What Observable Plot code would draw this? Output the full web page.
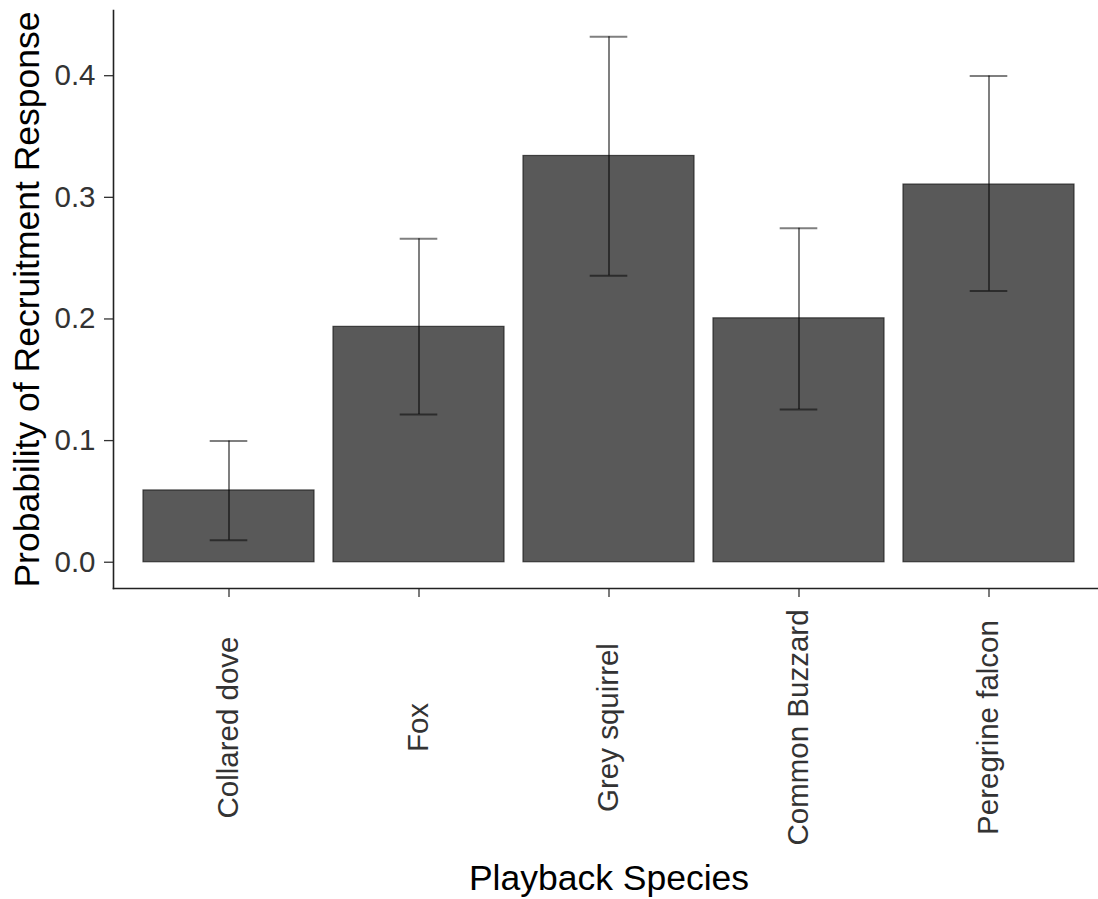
<!DOCTYPE html>
<html>
<head>
<meta charset="utf-8">
<script src="https://cdn.jsdelivr.net/npm/d3@7"></script>
<script src="https://cdn.jsdelivr.net/npm/@observablehq/plot@0.6"></script>
<style>
  html, body { margin: 0; padding: 0; background: #fff; }
  svg { display: block; }
</style>
</head>
<body>
<div id="chart"></div>
<script>
const species = ["Collared dove", "Fox", "Grey squirrel", "Common Buzzard", "Peregrine falcon"];
const probability = [0.059, 0.1935, 0.334, 0.2005, 0.3105];
const lower = [0.018, 0.1215, 0.2355, 0.1255, 0.223];
const upper = [0.0997, 0.266, 0.432, 0.2745, 0.3998];
const yTicks = [0, 0.1, 0.2, 0.3, 0.4];
const xTitle = "Playback Species";
const yTitle = "Probability of Recruitment Response";

const data = species.map((s, i) => ({species: s, p: probability[i], lo: lower[i], hi: upper[i]}));

const yMax = d3.max(upper), ySpan = yMax - 0;
const yDomain = [0 - 0.05 * ySpan, yMax + 0.05 * ySpan];

const font = "'Liberation Sans', Arial, Helvetica, sans-serif";

const chart = Plot.plot({
  width: 1098,
  height: 899,
  marginLeft: 113,
  marginTop: 10,
  marginRight: 0,
  marginBottom: 311,
  style: {fontFamily: font, background: "#fff"},
  x: {type: "band", domain: species, range: [113.5, 1104.5], paddingInner: 0.1, paddingOuter: 0.15},
  y: {domain: yDomain},
  marks: [
    Plot.barY(data, {x: "species", y1: 0, y2: "p", fill: "#595959", stroke: "#1a1a1a", strokeOpacity: 0.75, strokeWidth: 1.2}),
    Plot.ruleX(data, {x: "species", y1: "lo", y2: "hi", stroke: "#000", strokeOpacity: 0.5, strokeWidth: 2}),
    Plot.tickY(data, {x: "species", y: "hi", stroke: "#000", strokeOpacity: 0.5, strokeWidth: 2, insetLeft: 66.7, insetRight: 66.7}),
    Plot.tickY(data, {x: "species", y: "lo", stroke: "#000", strokeOpacity: 0.5, strokeWidth: 2, insetLeft: 66.7, insetRight: 66.7}),
    Plot.axisY({ticks: yTicks, tickFormat: d3.format(".1f"), tickSize: 9, tickPadding: 9, fontSize: 29.5, label: null, color: "#333", stroke: "#333", strokeWidth: 1.3}),
    Plot.axisX({tickSize: 9, tickFormat: () => "", label: null, stroke: "#333", strokeWidth: 1.3}),
    Plot.text(species, {x: d => d, frameAnchor: "bottom", dy: 139, rotate: -90, textAnchor: "middle", lineAnchor: "middle", fontSize: 29.5, fill: "#333"}),
    Plot.text([xTitle], {frameAnchor: "bottom", dx: 3, dy: 290, textAnchor: "middle", lineAnchor: "middle", fontSize: 35.5, fill: "#000"}),
    Plot.text([yTitle], {frameAnchor: "left", dx: -86, rotate: -90, textAnchor: "middle", lineAnchor: "middle", fontSize: 35.5, fill: "#000"}),
    Plot.frame({anchor: "left", stroke: "#222", strokeWidth: 1.6}),
    Plot.frame({anchor: "bottom", stroke: "#222", strokeWidth: 1.6})
  ]
});
document.getElementById("chart").append(chart);
</script>
</body>
</html>
